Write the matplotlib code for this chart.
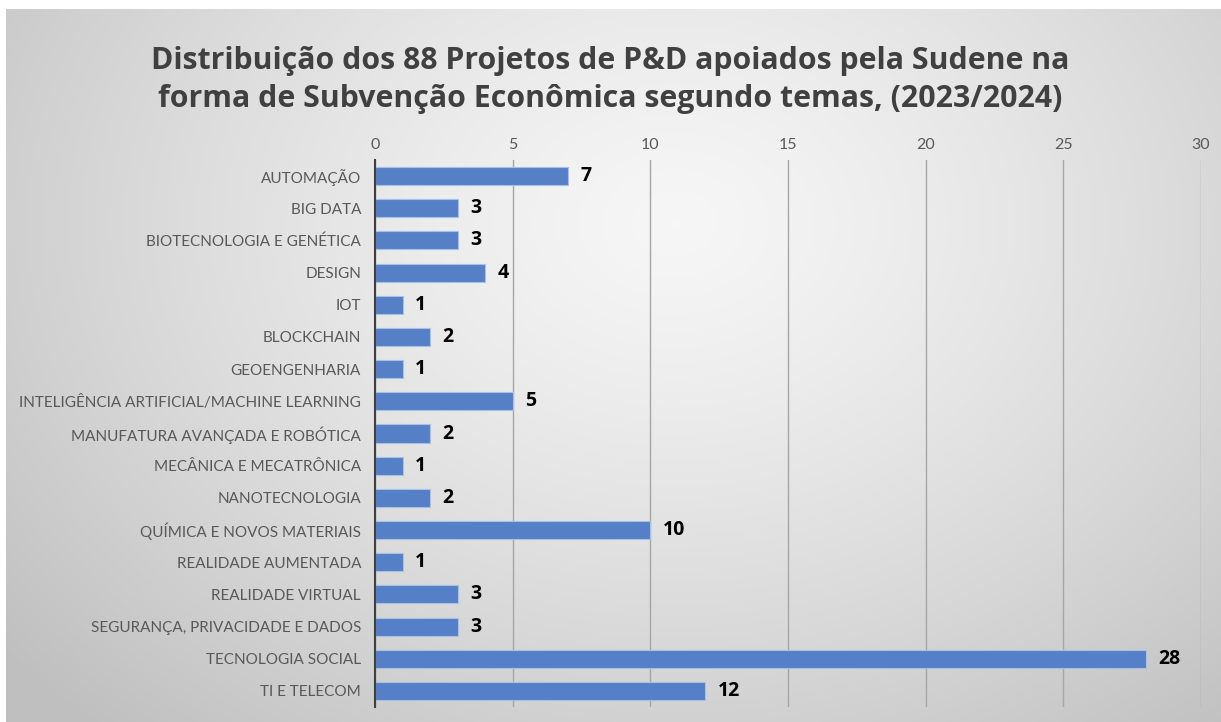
import numpy as np
import matplotlib
matplotlib.use("Agg")
import matplotlib.pyplot as plt

temas = ["AUTOMAÇÃO", "BIG DATA", "BIOTECNOLOGIA E GENÉTICA", "DESIGN", "IOT",
         "BLOCKCHAIN", "GEOENGENHARIA", "INTELIGÊNCIA ARTIFICIAL/MACHINE LEARNING",
         "MANUFATURA AVANÇADA E ROBÓTICA", "MECÂNICA E MECATRÔNICA", "NANOTECNOLOGIA",
         "QUÍMICA E NOVOS MATERIAIS", "REALIDADE AUMENTADA", "REALIDADE VIRTUAL",
         "SEGURANÇA, PRIVACIDADE E DADOS", "TECNOLOGIA SOCIAL", "TI E TELECOM"]
projetos = [7, 3, 3, 4, 1, 2, 1, 5, 2, 1, 2, 10, 1, 3, 3, 28, 12]
x_ticks = [0, 5, 10, 15, 20, 25, 30]

titulo = ("Distribuição dos 88 Projetos de P&D apoiados pela Sudene na\n"
          "forma de Subvenção Econômica segundo temas, (2023/2024)")

fig = plt.figure(figsize=(12.21, 7.22), dpi=100)

# fundo com gradiente radial (estilo Excel)
bg = fig.add_axes([6 / 1221, 0, 1 - 6 / 1221, 1 - 9 / 722])
bg.set_axis_off()
yy, xx = np.mgrid[0:1:300j, 0:1:500j]
r = np.sqrt(((xx - 0.55) / 0.72) ** 2 + ((yy - 0.3) / 0.95) ** 2)
r = np.clip(r, 0, 1)
g = 0.965 - (0.965 - 0.75) * r ** 1.3
img = np.dstack([g, g, g])
bg.imshow(img, extent=[0, 1, 1, 0], aspect="auto")
bg.set_xlim(0, 1)
bg.set_ylim(1, 0)

ax = fig.add_axes([375 / 1221, 15 / 722, (1201 - 375) / 1221, (707 - 160) / 722])
ax.patch.set_alpha(0)

y = np.arange(len(temas))
ax.barh(y, projetos, height=0.56, color="#5580c8", edgecolor="#a9c0e6", linewidth=0.8, zorder=3)
for yi, v in zip(y, projetos):
    ax.text(v + 0.45, yi, str(v), va="center", ha="left", fontsize=14,
            fontweight="bold", family="Open Sans", color="black", zorder=4)

ax.set_ylim(len(temas) - 0.5, -0.5)
ax.set_xlim(0, 30)
ax.set_yticks(y)
ax.set_yticklabels(temas, family="Lato", fontsize=11, color="#595959")
ax.set_xticks(x_ticks)
ax.set_xticklabels([str(t) for t in x_ticks], family="Lato", fontsize=11.5, color="#595959")
ax.xaxis.tick_top()
ax.tick_params(axis="both", length=0)
ax.tick_params(axis="y", pad=10)
ax.tick_params(axis="x", pad=6)
ax.grid(axis="x", color="#a6a6a6", linewidth=1, zorder=0)
for s in ["top", "right", "bottom"]:
    ax.spines[s].set_visible(False)
ax.spines["left"].set_color("#404040")
ax.spines["left"].set_linewidth(1.5)
ax.spines["left"].set_zorder(5)

fig.text(0.5, 0.889, titulo, ha="center", va="center", fontsize=21.8, fontweight="bold",
         family="Open Sans", color="#404040", linespacing=1.33)

fig.savefig("out.png", dpi=100)
